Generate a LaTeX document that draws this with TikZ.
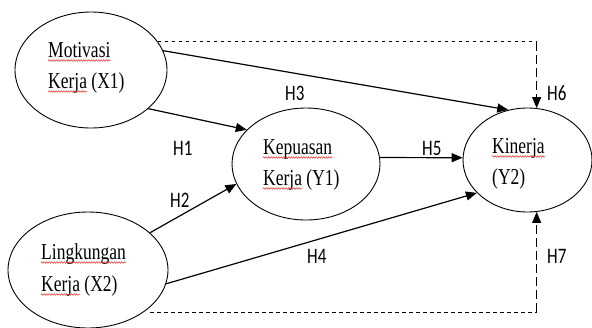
\documentclass[tikz,border=0pt]{standalone}
\usepackage{fontspec}
\setmainfont{Liberation Serif}
\newfontfamily\hfont{Carlito}
\usetikzlibrary{shapes.geometric,arrows.meta,decorations.pathmorphing}
\newcommand{\ytxt}[1]{\scalebox{1}[1.3]{#1}}
\definecolor{spellred}{RGB}{225,40,40}
\tikzset{
  x=1pt,y=-1pt,
  varell/.style={ellipse,draw,line width=0.9pt,inner sep=0pt},
  vartext/.style={anchor=base west,inner sep=0pt,font=\fontsize{17.5}{20}\selectfont},
  hlabel/.style={anchor=base west,inner sep=0pt,font=\hfont\fontsize{17}{20}\selectfont},
  arr/.style={line width=1.2pt,-{Triangle[length=11pt,width=9pt]}},
  hdash/.style={line width=1pt,dash pattern=on 3.5pt off 3.5pt},
  vdash/.style={line width=1pt,dash pattern=on 9pt off 4pt},
  squiggle/.style={spellred,line width=0.5pt,decorate,decoration={snake,amplitude=0.8pt,segment length=2.5pt}},
}
\begin{document}
\begin{tikzpicture}
\useasboundingbox (0,0) rectangle (592,327);
% ellipses
\node[varell,minimum width=152pt,minimum height=116pt] (x1) at (91,70) {};
\node[varell,minimum width=160pt,minimum height=116pt] (x2) at (88,270) {};
\node[varell,minimum width=148pt,minimum height=112pt] (y1) at (306,164) {};
\node[varell,minimum width=129pt,minimum height=104pt] (y2) at (527.5,160) {};
% texts
\node[vartext] (t1a) at (48,57) {\ytxt{Motivasi}};
\node[vartext] (t1b) at (48,88) {\ytxt{Kerja (X1)}};
\node[vartext] (t2a) at (41,259) {\ytxt{Lingkungan}};
\node[vartext] (t2b) at (41,291) {\ytxt{Kerja (X2)}};
\node[vartext] (t3a) at (263,154) {\ytxt{Kepuasan}};
\node[vartext] (t3b) at (263,185) {\ytxt{Kerja (Y1)}};
\node[vartext] (t4a) at (492,153) {\ytxt{Kinerja}};
\node[vartext] (t4b) at (492,184) {\ytxt{(Y2)}};
% spell-check underlines
\draw[squiggle] ([yshift=-3.5pt]t1a.base west) -- ([yshift=-3.5pt]t1a.base east);
\draw[squiggle] ([yshift=-3.5pt]t1b.base west) -- ++(39,0);
\draw[squiggle] ([yshift=-3.5pt]t2a.base west) -- ([yshift=-3.5pt]t2a.base east);
\draw[squiggle] ([yshift=-3.5pt]t2b.base west) -- ++(39,0);
\draw[squiggle] ([yshift=-3.5pt]t3a.base west) -- ([yshift=-3.5pt]t3a.base east);
\draw[squiggle] ([yshift=-3.5pt]t3b.base west) -- ++(39,0);
\draw[squiggle] ([yshift=-3.5pt]t4a.base west) -- ([yshift=-3.5pt]t4a.base east);
% hypothesis labels
\node[hlabel] (h1) at (173,155) {\ytxt{H1}};
\node[hlabel] (h2) at (170,207) {\ytxt{H2}};
\node[hlabel] (h3) at (285,100) {\ytxt{H3}};
\node[hlabel] (h4) at (307,263) {\ytxt{H4}};
\node[hlabel] (h5) at (422,155) {\ytxt{H5}};
\node[hlabel] (h6) at (547,100) {\ytxt{H6}};
\node[hlabel] (h7) at (547,263) {\ytxt{H7}};
% arrows
\draw[arr] (x1.-34) -- (y1.150);
\draw[arr] (x1.15) -- (y2.111);
\draw[arr] (x2.31) -- (y1.-164);
\draw[arr] (x2.-10) -- (y2.-147);
\draw[arr] (y1.5) -- (y2.178);
% dashed paths
\coordinate (y2t) at (y2.80);
\coordinate (y2b) at (y2.-80);
\coordinate (ctop) at (y2t |- x1.23);
\coordinate (bstart) at (150,312);
\coordinate (cbot) at (y2b |- bstart);
\draw[hdash] (x1.23) -- (ctop);
\draw[vdash,-{Triangle[length=11pt,width=9pt]}] (ctop) -- (y2t);
\draw[hdash] (bstart) -- (cbot);
\draw[vdash,-{Triangle[length=11pt,width=9pt]}] (cbot) -- (y2b);
\end{tikzpicture}
\end{document}
